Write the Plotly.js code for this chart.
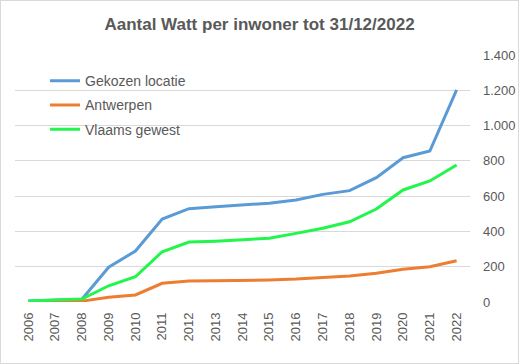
<!DOCTYPE html>
<html><head><meta charset="utf-8">
<script src="https://cdn.plot.ly/plotly-3.0.1.min.js"></script>
<style>
html,body{margin:0;padding:0;background:#fff;}
#wrap{position:relative;width:519px;height:364px;}
#chart{width:519px;height:364px;}
#border{position:absolute;left:0;top:0;width:517px;height:362px;border:1px solid #d9d9d9;pointer-events:none;}
</style></head>
<body>
<div id="wrap"><div id="chart"></div><div id="border"></div></div>
<script>
const years = ["2006","2007","2008","2009","2010","2011","2012","2013","2014","2015","2016","2017","2018","2019","2020","2021","2022"];
const gekozen = [5, 10, 16, 197, 289, 470, 529, 540, 550, 560, 578, 610, 631, 705, 818, 856, 1202];
const antwerpen = [2, 3, 5, 27, 40, 106, 119, 120, 121, 125, 130, 138, 147, 163, 185, 200, 234];
const vlaams = [5, 10, 17, 92, 143, 285, 340, 345, 355, 361, 389, 418, 455, 527, 635, 686, 777];
const yTicks = [0, 200, 400, 600, 800, 1000, 1200, 1400];

const font = "Liberation Sans, Arial, sans-serif";
const traces = [
  {x: years, y: gekozen, name: "Gekozen locatie", legendgroup: "a", type: "scatter", mode: "lines", line: {color: "#5B9BD5", width: 3}},
  {x: years, y: antwerpen, name: "Antwerpen", legendgroup: "b", type: "scatter", mode: "lines", line: {color: "#ED7D31", width: 3}},
  {x: years, y: vlaams, name: "Vlaams gewest", legendgroup: "c", type: "scatter", mode: "lines", line: {color: "#22F54C", width: 3}}
];
const layout = {
  width: 519, height: 364,
  margin: {l: 15, r: 49, t: 55, b: 62},
  paper_bgcolor: "#fff", plot_bgcolor: "#fff",
  separators: ",.",
  title: {text: "<b>Aantal Watt per inwoner tot 31/12/2022</b>", font: {family: font, size: 17, color: "#595959"}, x: 0.5, xanchor: "center", y: 0.935, yanchor: "middle"},
  font: {family: font, color: "#595959", size: 12},
  showlegend: true,
  legend: {x: 0.066, y: 0.959, xanchor: "left", yanchor: "top", bgcolor: "rgba(0,0,0,0)", font: {family: font, size: 14, color: "#595959"}, tracegroupgap: 3, itemwidth: 30},
  xaxis: {type: "category", range: [-0.5, 16.5], showgrid: false, zeroline: false, showline: false, ticks: "", tickangle: -90, ticklabelstandoff: 7, tickfont: {family: font, size: 13, color: "#595959"}, fixedrange: true},
  yaxis: {side: "right", range: [0, 1400], tickvals: yTicks, tickformat: ",d", showgrid: true, gridcolor: "#d9d9d9", gridwidth: 1, zeroline: false, showline: false, ticks: "", ticklabelstandoff: 12, tickfont: {family: font, size: 13, color: "#595959"}, fixedrange: true}
};
Plotly.newPlot("chart", traces, layout, {displayModeBar: false, staticPlot: true});
</script>
</body></html>
